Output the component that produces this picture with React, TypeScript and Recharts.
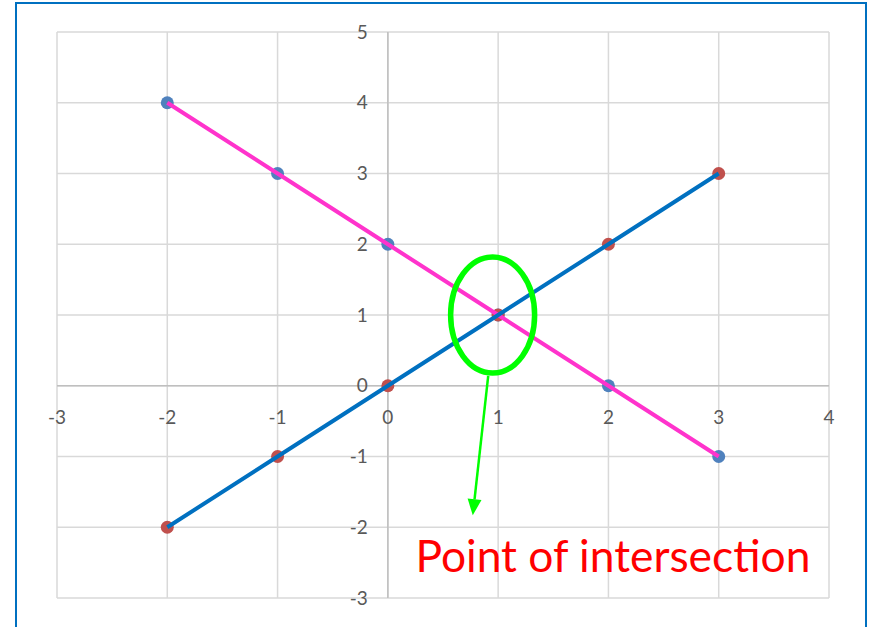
import React from "react";
import {
  CartesianGrid,
  ReferenceDot,
  ReferenceLine,
  Scatter,
  ScatterChart,
  XAxis,
  YAxis,
} from "recharts";

// axis ticks
const xTicks = [-3, -2, -1, 0, 1, 2, 3, 4];
const yTicks = [-3, -2, -1, 0, 1, 2, 3, 4, 5];

// the two lines, one point per x
const xValues = [-2, -1, 0, 1, 2, 3];
const pinkValues = [4, 3, 2, 1, 0, -1];
const blueValues = [-2, -1, 0, 1, 2, 3];

// annotation anchors, in data units
const ringCenter = { x: 0.95, y: 1 };
const arrowFrom = { x: 0.91, y: 0.14 };
const arrowTo = { x: 0.77, y: -1.83 };
const noteAt = { x: 0.25, y: -2.63 };
const noteText = "Point of intersection";

const pinkData = xValues.map((x, i) => ({ x, y: pinkValues[i] }));
const blueData = xValues.map((x, i) => ({ x, y: blueValues[i] }));

const W = 873;
const H = 627;
const FONT = "Lato, 'Open Sans', sans-serif";
const TICK = { fill: "#595959", fontSize: 19, fontFamily: FONT };

const dot = (fill: string) => (p: any) => <circle cx={p.cx} cy={p.cy} r={6.5} fill={fill} stroke="none" />;
const none = () => <g />;

function Arrow(p: any) {
  const { x1, y1, x2, y2 } = p;
  const dx = x2 - x1;
  const dy = y2 - y1;
  const len = Math.hypot(dx, dy);
  const ux = dx / len;
  const uy = dy / len;
  const head = 16;
  const half = 7;
  const bx = x2 - ux * head;
  const by = y2 - uy * head;
  return (
    <g>
      <line x1={x1} y1={y1} x2={bx} y2={by} stroke="#00FF00" strokeWidth={2.5} />
      <polygon
        points={`${x2},${y2} ${bx - uy * half},${by + ux * half} ${bx + uy * half},${by - ux * half}`}
        fill="#00FF00"
      />
    </g>
  );
}

export default function App() {
  return (
    <div style={{ position: "absolute", left: 0, top: 0, width: W, height: H, overflow: "hidden", background: "#fff", fontFamily: FONT }}>
      <div
        style={{
          position: "absolute",
          left: 15,
          top: 2,
          width: 852,
          height: 700,
          border: "2px solid #0070C0",
          boxSizing: "border-box",
        }}
      />
      <div style={{ position: "absolute", left: 0, top: 0 }}>
        <ScatterChart width={W} height={H} margin={{ top: 32, right: 44, bottom: 29, left: 57 }}>
          <CartesianGrid stroke="#d9d9d9" strokeWidth={1.5} />
          <XAxis type="number" dataKey="x" domain={[-3, 4]} ticks={xTicks} hide />
          <YAxis type="number" dataKey="y" domain={[-3, 5]} ticks={yTicks} hide />
          <ReferenceLine x={0} stroke="#bfbfbf" strokeWidth={1.5} />
          <ReferenceLine y={0} stroke="#bfbfbf" strokeWidth={1.5} />
          {xTicks.map((t) => (
            <ReferenceDot
              key={`xt${t}`}
              x={t}
              y={0}
              r={0}
              fill="none"
              stroke="none"
              label={{ value: String(t), position: "bottom", offset: 25, ...TICK }}
            />
          ))}
          {yTicks.map((t) => (
            <ReferenceDot
              key={`yt${t}`}
              x={0}
              y={t}
              r={0}
              fill="none"
              stroke="none"
              label={{ value: String(t), position: "left", offset: 20, ...TICK }}
            />
          ))}
          <Scatter data={pinkData} fill="#4F81BD" shape={dot("#4F81BD")} isAnimationActive={false} />
          <Scatter data={blueData} fill="#C0504D" shape={dot("#C0504D")} isAnimationActive={false} />
          <Scatter
            data={pinkData}
            line={{ stroke: "#FF33CC", strokeWidth: 4 }}
            stroke="#FF33CC"
            strokeWidth={4}
            shape={none}
            isAnimationActive={false}
          />
          <Scatter
            data={blueData}
            line={{ stroke: "#0070C0", strokeWidth: 4 }}
            stroke="#0070C0"
            strokeWidth={4}
            shape={none}
            isAnimationActive={false}
          />
          <ReferenceDot
            x={ringCenter.x}
            y={ringCenter.y}
            shape={(p: any) => (
              <ellipse cx={p.cx} cy={p.cy} rx={42} ry={58} fill="none" stroke="#00FF00" strokeWidth={5.5} />
            )}
          />
          <ReferenceLine segment={[arrowFrom, arrowTo]} shape={Arrow} />
          <ReferenceDot
            x={noteAt.x}
            y={noteAt.y}
            shape={(p: any) => (
              <text
                x={p.cx}
                y={p.cy}
                fill="#FF0000"
                fontSize={45}
                fontFamily={FONT}
                textLength={395}
                lengthAdjust="spacingAndGlyphs"
              >
                {noteText}
              </text>
            )}
          />
        </ScatterChart>
      </div>
    </div>
  );
}
